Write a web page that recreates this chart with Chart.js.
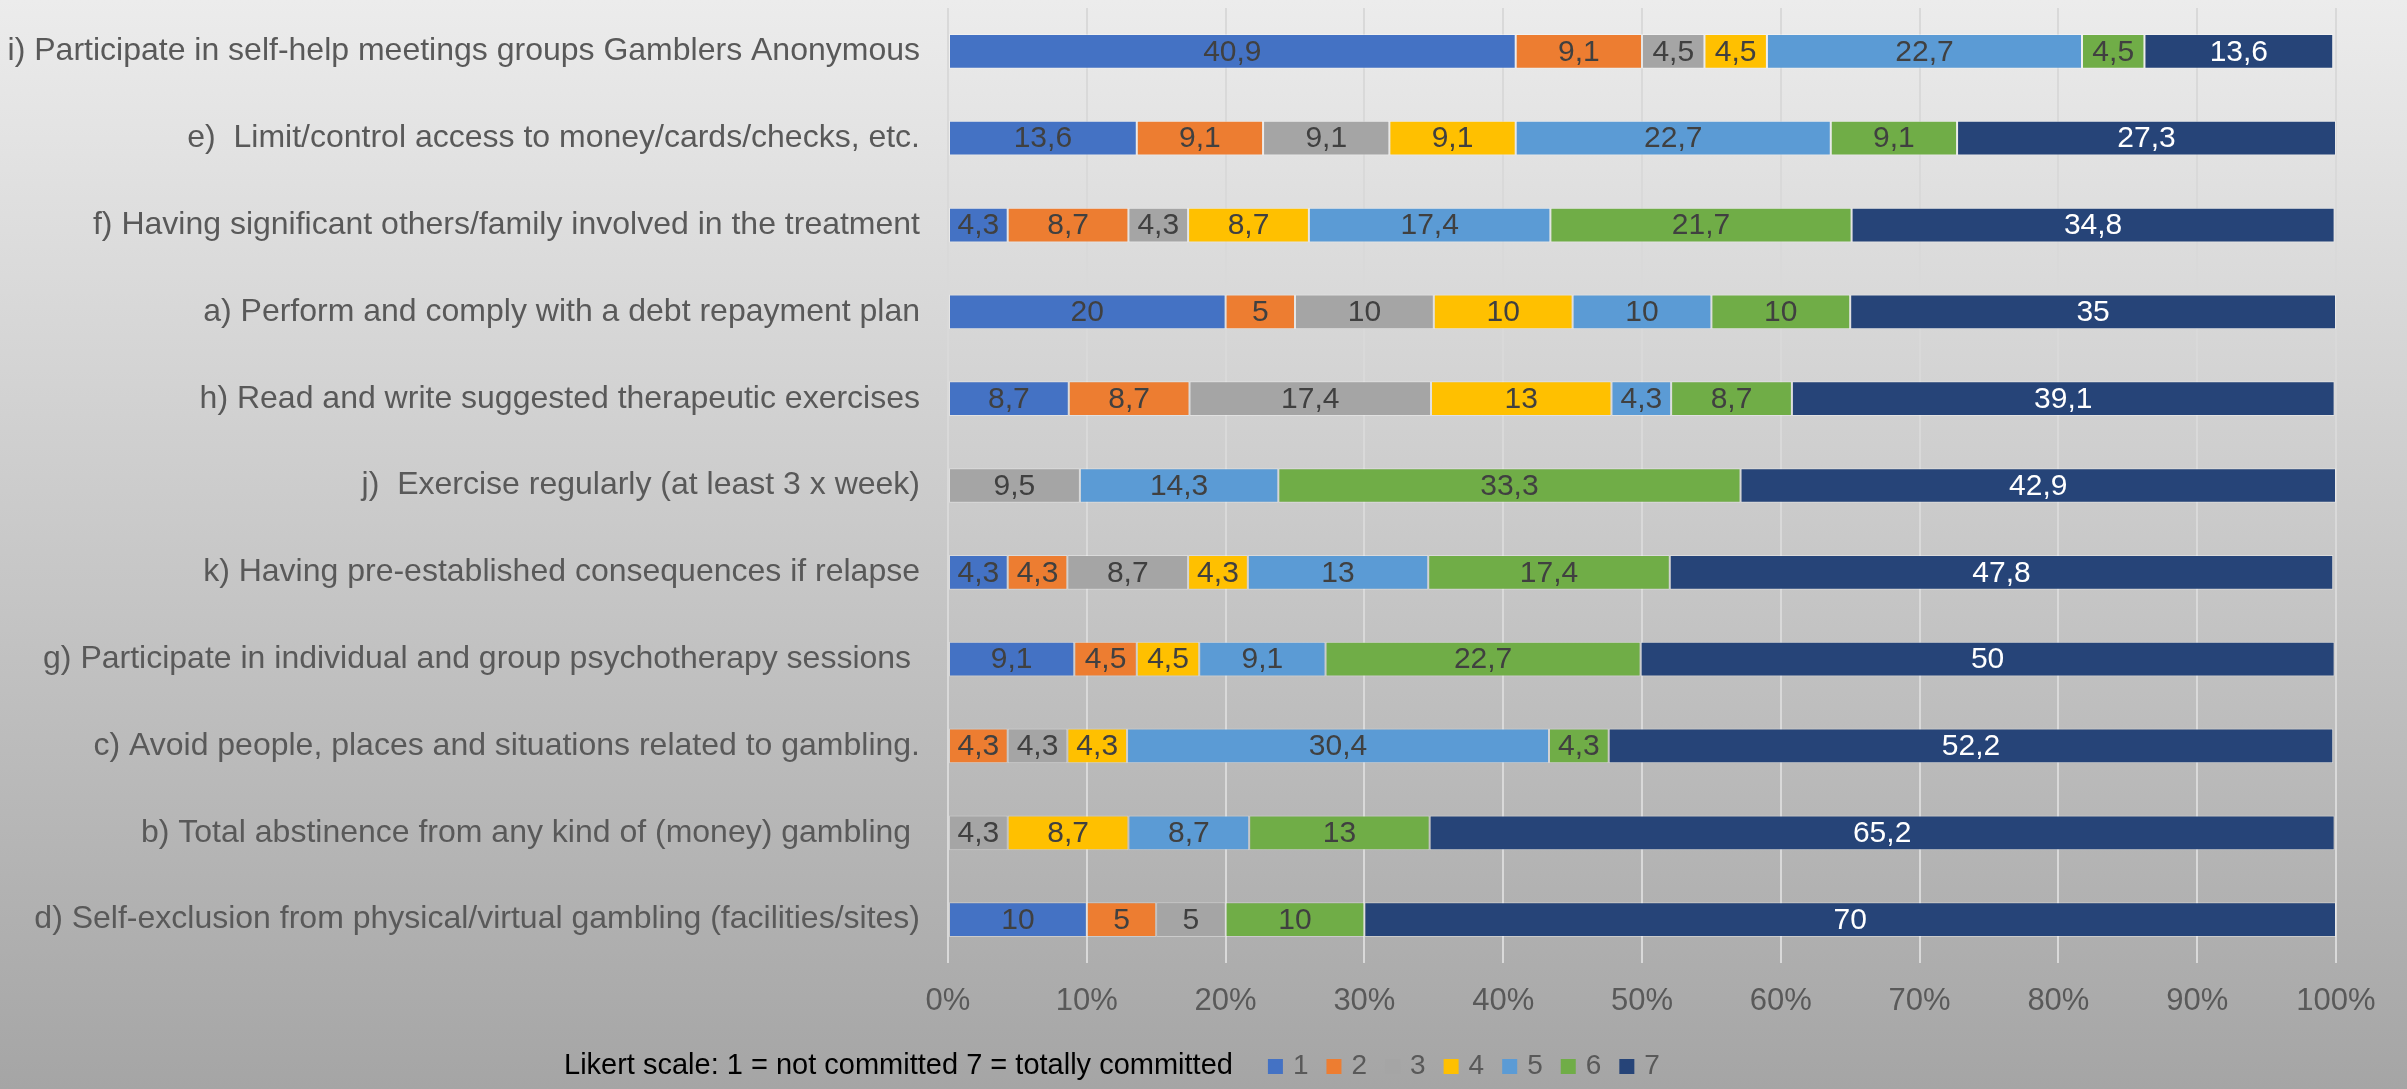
<!DOCTYPE html>
<html>
<head>
<meta charset="utf-8">
<script src="https://cdn.jsdelivr.net/npm/chart.js@4/dist/chart.umd.min.js"></script>
<style>
  html, body { margin: 0; padding: 0; }
  #wrap {
    width: 2407px;
    height: 1089px;
    background: linear-gradient(to bottom, #ececec 0%, #a5a5a5 100%);
  }
</style>
</head>
<body>
<div id="wrap">
  <canvas id="myChart" width="2407" height="1089"></canvas>
</div>
<script>
'use strict';

// strategies, top to bottom
let strategies = [
    'i) Participate in self-help meetings groups Gamblers Anonymous',
    'e)  Limit/control access to money/cards/checks, etc.',
    'f) Having significant others/family involved in the treatment',
    'a) Perform and comply with a debt repayment plan',
    'h) Read and write suggested therapeutic exercises',
    'j)  Exercise regularly (at least 3 x week)',
    'k) Having pre-established consequences if relapse',
    'g) Participate in individual and group psychotherapy sessions ',
    'c) Avoid people, places and situations related to gambling.',
    'b) Total abstinence from any kind of (money) gambling ',
    'd) Self-exclusion from physical/virtual gambling (facilities/sites)'
];

// % of answers per likert level (null = nobody)
let level1 = [40.9, 13.6, 4.3, 20, 8.7, null, 4.3, 9.1, null, null, 10];
let level2 = [9.1, 9.1, 8.7, 5, 8.7, null, 4.3, 4.5, 4.3, null, 5];
let level3 = [4.5, 9.1, 4.3, 10, 17.4, 9.5, 8.7, null, 4.3, 4.3, 5];
let level4 = [4.5, 9.1, 8.7, 10, 13, null, 4.3, 4.5, 4.3, 8.7, null];
let level5 = [22.7, 22.7, 17.4, 10, 4.3, 14.3, 13, 9.1, 30.4, 8.7, null];
let level6 = [4.5, 9.1, 21.7, 10, 8.7, 33.3, 17.4, 22.7, 4.3, 13, 10];
let level7 = [13.6, 27.3, 34.8, 35, 39.1, 42.9, 47.8, 50, 52.2, 65.2, 70];

let levelNames = ['1', '2', '3', '4', '5', '6', '7'];
let levelColors = ['#4472c4', '#ed7d31', '#a5a5a5', '#ffc000', '#5b9bd5', '#70ad47', '#264478'];

let xTicks = [0, 10, 20, 30, 40, 50, 60, 70, 80, 90, 100];

let legendTitle = 'Likert scale: 1 = not committed 7 = totally committed';

let allLevels = [level1, level2, level3, level4, level5, level6, level7];

let fontFamily = '"Liberation Sans", Arial, sans-serif';

let datasets = [];
for (let i = 0; i < allLevels.length; i++) {
    datasets.push({
        label: levelNames[i],
        data: allLevels[i],
        backgroundColor: levelColors[i],
        borderColor: 'rgba(255, 255, 255, 0.35)',
        borderWidth: 1,
        borderSkipped: false,
        categoryPercentage: 0.4,
        barPercentage: 1.0
    });
}

// numbers written inside every segment, decimal comma
let valueLabels = {
    id: 'valueLabels',
    afterDatasetsDraw(chart) {
        let ctx = chart.ctx;
        ctx.save();
        ctx.font = '30px ' + fontFamily;
        ctx.textAlign = 'center';
        ctx.textBaseline = 'middle';
        chart.data.datasets.forEach((ds, di) => {
            let meta = chart.getDatasetMeta(di);
            meta.data.forEach((bar, j) => {
                let v = ds.data[j];
                if (v === null || v === undefined) return;
                let p = bar.getProps(['x', 'y', 'base'], true);
                ctx.fillStyle = di === 6 ? '#ffffff' : '#404040';
                ctx.fillText(String(v).replace('.', ','), (p.x + p.base) / 2, p.y + 1);
            });
        });
        ctx.restore();
    }
};

// legend row with the scale explanation in front
let likertLegend = {
    id: 'likertLegend',
    afterDraw(chart) {
        let ctx = chart.ctx;
        let y = 1066;
        let x = 564;
        ctx.save();
        ctx.textBaseline = 'middle';
        ctx.textAlign = 'left';
        ctx.font = '29px ' + fontFamily;
        ctx.fillStyle = '#000000';
        ctx.fillText(legendTitle, x, y);
        x += ctx.measureText(legendTitle).width + 35;
        ctx.font = '28px ' + fontFamily;
        chart.data.datasets.forEach((ds) => {
            ctx.fillStyle = ds.backgroundColor;
            ctx.fillRect(x, y - 7, 15, 15);
            x += 25;
            ctx.fillStyle = '#595959';
            ctx.fillText(ds.label, x, y);
            x += ctx.measureText(ds.label).width + 18;
        });
        ctx.restore();
    }
};

let ctx = document.getElementById('myChart').getContext('2d');
let myChart = new Chart(ctx, {
    type: 'bar',
    data: {
        labels: strategies,
        datasets: datasets
    },
    plugins: [valueLabels, likertLegend],
    options: {
        indexAxis: 'y',
        responsive: false,
        animation: false,
        layout: {
            padding: { top: 8, right: 71, bottom: 0, left: 0 }
        },
        plugins: {
            legend: { display: false },
            tooltip: { enabled: false }
        },
        scales: {
            x: {
                stacked: true,
                min: 0,
                max: 100,
                afterBuildTicks: (scale) => {
                    scale.ticks = xTicks.map(v => ({ value: v }));
                },
                afterFit: (scale) => {
                    scale.height = 126;
                },
                ticks: {
                    color: '#595959',
                    font: { size: 31, family: fontFamily },
                    padding: 20,
                    maxRotation: 0,
                    callback: (v) => v + '%'
                },
                grid: {
                    color: '#d9d9d9',
                    lineWidth: 2,
                    drawTicks: false
                },
                border: { display: false }
            },
            y: {
                stacked: true,
                afterFit: (scale) => {
                    scale.width = 948;
                    scale.paddingTop = 0;
                    scale.paddingBottom = 0;
                },
                ticks: {
                    color: '#595959',
                    font: { size: 32, family: fontFamily },
                    padding: 28,
                    autoSkip: false
                },
                grid: { display: false, drawTicks: false },
                border: { display: false }
            }
        }
    }
});
</script>
</body>
</html>
